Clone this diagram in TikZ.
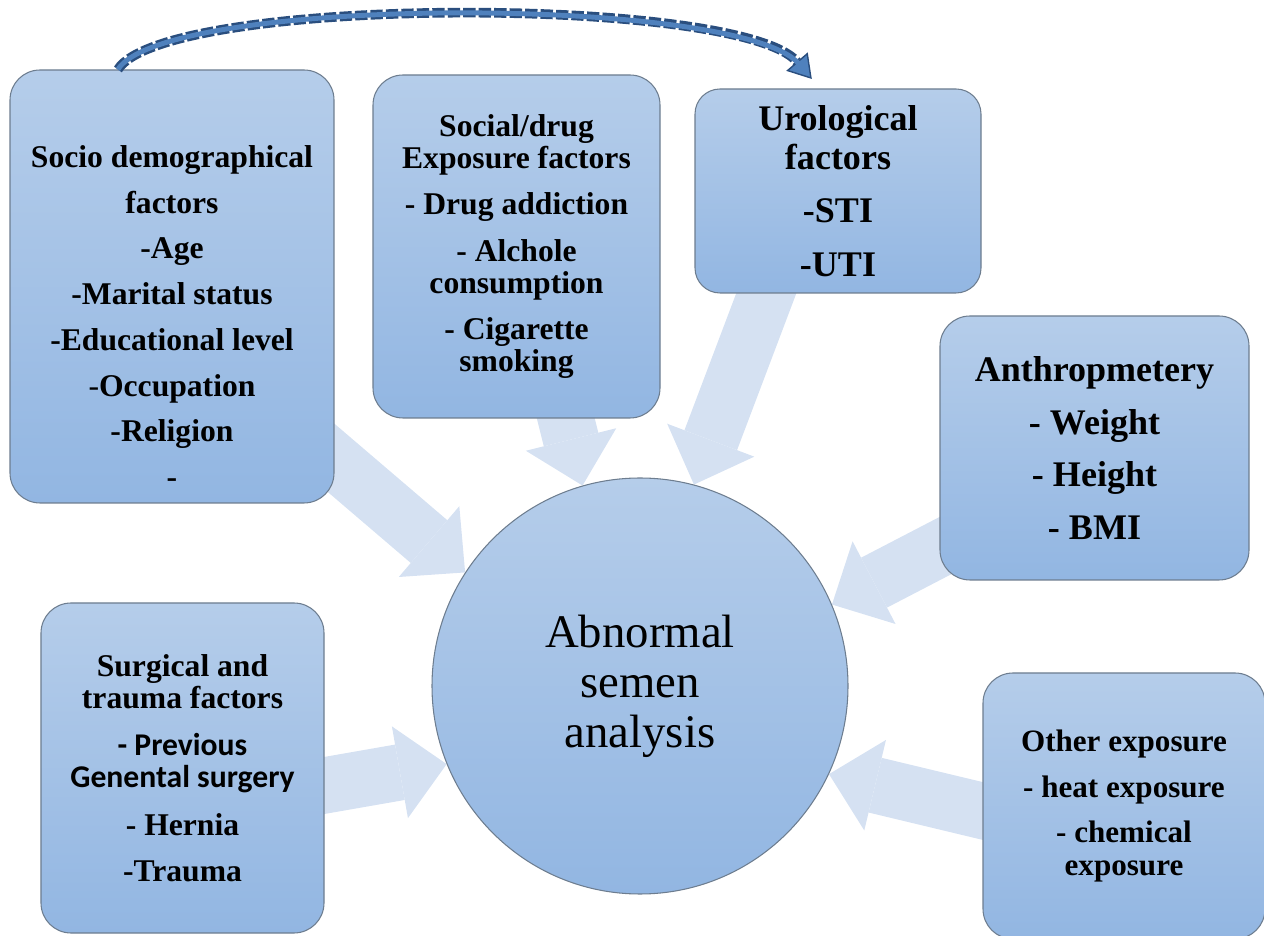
\documentclass[tikz,border=0pt]{standalone}
\usepackage{fontspec}
\setmainfont{Liberation Serif}
\newfontfamily\calib{Carlito}
\usetikzlibrary{arrows.meta}
\definecolor{boxtop}{HTML}{B5CDEA}
\definecolor{boxbot}{HTML}{92B6E2}
\definecolor{boxedge}{HTML}{6D7D8F}
\definecolor{flowblue}{HTML}{D5E1F2}
\definecolor{curvemid}{HTML}{4F81BD}
\definecolor{curvedark}{HTML}{2A4E7E}
\pgfdeclarelayer{background}
\pgfsetlayers{background,main}
\tikzset{
  factor/.style={draw=boxedge, line width=0.6pt, rounded corners=0.6cm,
    top color=boxtop, bottom color=boxbot, align=center, inner sep=0pt,
    font=\bfseries\fontsize{18}{18}\selectfont},
  flow/.style={draw=flowblue, line width=32pt, shorten <=-40pt,
    -{Triangle[width=53pt,length=27pt,line width=0pt]}},
}
\begin{document}
\begin{tikzpicture}
	\useasboundingbox (0,0) rectangle (25.28,18.7);
	% centre
	\node[circle, minimum size=8.32cm, draw=boxedge, line width=0.6pt,
		top color=boxtop, bottom color=boxbot, align=center,
		font=\fontsize{26.6}{28.4}\selectfont] (abn) at (12.8,4.98)
		{Abnormal\\semen\\analysis};
	% factor boxes
	\node[factor, minimum width=6.48cm, minimum height=8.66cm] (soc) at (3.44,12.97) {};
	\node[align=center, font=\bfseries\fontsize{18}{26}\selectfont] at ([yshift=-0.6cm]soc.center)
		{Socio demographical\\factors\\-Age\\-Marital status\\-Educational level\\
		\textmd{-}Occupation\\-Religion\\-};
	\node[factor, minimum width=5.74cm, minimum height=6.86cm] (dru) at (10.33,13.77)
		{Social/drug\\Exposure factors\\[8.5pt]- Drug addiction\\[8.5pt]- Alchole\\consumption\\[8.5pt]- Cigarette\\smoking};
	\node[factor, rounded corners=0.5cm, minimum width=5.72cm, minimum height=4.08cm,
		font=\bfseries\fontsize{20.5}{22}\selectfont] (uro) at (16.76,14.88)
		{Urological\\factors\\[8.5pt]-STI\\[8.5pt]-UTI};
	\node[factor, minimum width=6.18cm, minimum height=5.28cm,
		font=\bfseries\fontsize{20.5}{30}\selectfont] (ant) at (21.89,9.74)
		{Anthropmetery\\- Weight\\- Height\\- BMI};
	\node[factor, minimum width=5.66cm, minimum height=6.6cm] (sur) at (3.65,3.34)
		{Surgical and\\trauma factors\\[9pt]{\calib - Previous}\\{\calib Genental surgery}\\[9.5pt]- Hernia\\[8pt]-Trauma};
	\node[factor, minimum width=5.64cm, minimum height=5.32cm,
		font=\bfseries\fontsize{17.7}{18.7}\selectfont] (oth) at (22.48,2.58)
		{Other exposure\\[7.5pt]- heat exposure\\[7pt]- chemical\\exposure};
	% wide arrows into the centre
	\begin{pgfonlayer}{background}
		\draw[flow] (soc.-47) -- (abn.147);
		\draw[flow] (dru.-74) -- (abn.106);
		\draw[flow] (uro.235) -- (abn.75);
		\draw[flow] (ant.213) -- (abn.23);
		\draw[flow] (oth.182) -- (abn.-25);
		\draw[flow] (sur.-7) -- (abn.202);
	\end{pgfonlayer}
	% curved dashed arrow on top
	\draw[curvedark, line width=5.5pt, dash pattern=on 7pt off 1.8pt, shorten >=0.25cm,
		-{Triangle[width=16pt,length=13pt,line width=0.8pt,fill=curvemid]}]
		(soc.104) .. controls (3.3,18.8) and (14.8,18.8) .. (uro.100);
	\draw[curvemid, line width=2.8pt, shorten >=0.65cm]
		(soc.104) .. controls (3.3,18.8) and (14.8,18.8) .. (uro.100);
\end{tikzpicture}
\end{document}
